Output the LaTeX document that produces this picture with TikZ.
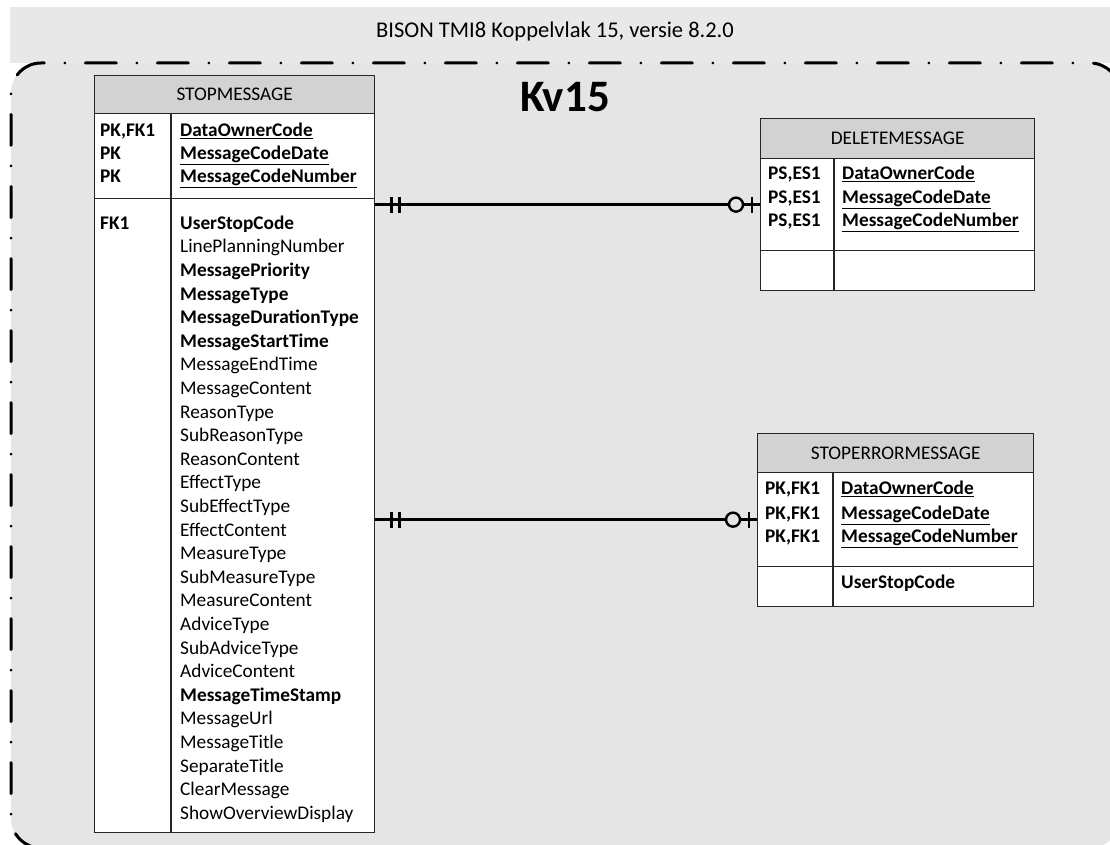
\documentclass[tikz,border=0pt]{standalone}
\usepackage{fontspec}
\setmainfont{Carlito}
\usetikzlibrary{calc}
\definecolor{bandgray}{HTML}{E8E8E8}
\definecolor{bggray}{HTML}{E5E5E5}
\definecolor{hdrgray}{HTML}{D2D2D2}
\definecolor{linecol}{HTML}{262626}
\newcommand{\tf}{\fontsize{19.3}{23}\selectfont}
\begin{document}
\begin{tikzpicture}[x=1pt,y=-1pt,
  hdr/.style={draw=linecol, fill=hdrgray, line width=1.3pt, inner sep=0pt, anchor=north west, font=\tf},
  body/.style={draw=linecol, fill=white, line width=1.3pt, inner sep=0pt, anchor=north west},
  txt/.style={inner sep=0pt, anchor=mid west, font=\tf},
  coldiv/.style={draw=linecol, line width=1.3pt},
  conn/.style={draw=black, line width=2.4pt},
  border/.style={draw=black, line width=3pt, line cap=round, rounded corners=30pt, dash pattern=on 31pt off 20.5pt on 0pt off 20.5pt}
]
\useasboundingbox (0,0) rectangle (1110,845);
\fill[white] (0,0) rectangle (1110,845);
\fill[bandgray] (10,7) rectangle (1110,63);
\path[fill=bggray, rounded corners=30pt] (11,63) rectangle (1120,848);
\draw[border, dash phase=47.5pt] (11,818) -- (11,63) -- (1120,63) -- (1120,848);
\draw[border, dash phase=55.5pt] (11,818) -- (11,848) -- (1120,848);
\node[font=\fontsize{22.5}{26}\selectfont, inner sep=0pt] (title) at (555,32) {BISON TMI8 Koppelvlak 15, versie 8.2.0};
\node[font=\fontsize{45}{50}\selectfont\bfseries, inner sep=0pt] (kv) at (565,97) {Kv15};

% STOPMESSAGE
\node[hdr, minimum width=280pt, minimum height=38pt] (stophdr) at (94,75) {STOPMESSAGE};
\node[body, minimum width=280pt, minimum height=85pt] (stoppk) at (94,113) {};
\node[body, minimum width=280pt, minimum height=634pt] (stopattr) at (94,198) {};
\draw[coldiv] (171,113) -- (171,832);
\node[txt, font=\tf\bfseries] (s1k) at (100,134) {PK,FK1};
\node[txt, font=\tf\bfseries] (s2k) at (100,157) {PK};
\node[txt, font=\tf\bfseries] (s3k) at (100,180) {PK};
\node[txt, font=\tf\bfseries] (s1) at (180,134) {\underline{DataOwnerCode}};
\node[txt, font=\tf\bfseries] (s2) at (180,157) {\underline{MessageCodeDate}};
\node[txt, font=\tf\bfseries] (s3) at (180,180) {\underline{MessageCodeNumber}};
\node[txt, font=\tf\bfseries] (s4k) at (100,227) {FK1};
\foreach \t/\b [count=\i from 0] in {UserStopCode/1, LinePlanningNumber/0, MessagePriority/1, MessageType/1, MessageDurationType/1, MessageStartTime/1, MessageEndTime/0, MessageContent/0, ReasonType/0, SubReasonType/0, ReasonContent/0, EffectType/0, SubEffectType/0, EffectContent/0, MeasureType/0, SubMeasureType/0, MeasureContent/0, AdviceType/0, SubAdviceType/0, AdviceContent/0, MessageTimeStamp/1, MessageUrl/0, MessageTitle/0, SeparateTitle/0, ClearMessage/0, ShowOverviewDisplay/0}{
  \node[txt] (sa\i) at (180,{227+23.6*\i}) {\ifnum\b=1 \bfseries\fi\t};
}

% DELETEMESSAGE
\node[hdr, minimum width=274pt, minimum height=40pt] (delhdr) at (760,118) {DELETEMESSAGE};
\node[body, minimum width=274pt, minimum height=92pt] (delpk) at (760,158) {};
\node[body, minimum width=274pt, minimum height=40pt] (delattr) at (760,250) {};
\draw[coldiv] (834,158) -- (834,290);
\node[txt, font=\tf\bfseries] (d1k) at (768,177) {PS,ES1};
\node[txt, font=\tf\bfseries] (d2k) at (768,201) {PS,ES1};
\node[txt, font=\tf\bfseries] (d3k) at (768,224) {PS,ES1};
\node[txt, font=\tf\bfseries] (d1) at (842,177) {\underline{DataOwnerCode}};
\node[txt, font=\tf\bfseries] (d2) at (842,201) {\underline{MessageCodeDate}};
\node[txt, font=\tf\bfseries] (d3) at (842,224) {\underline{MessageCodeNumber}};

% STOPERRORMESSAGE
\node[hdr, minimum width=276pt, minimum height=39pt] (errhdr) at (757,433) {STOPERRORMESSAGE};
\node[body, minimum width=276pt, minimum height=94pt] (errpk) at (757,472) {};
\node[body, minimum width=276pt, minimum height=40pt] (errattr) at (757,566) {};
\draw[coldiv] (833,472) -- (833,606);
\node[txt, font=\tf\bfseries] (e1k) at (765,492) {PK,FK1};
\node[txt, font=\tf\bfseries] (e2k) at (765,517) {PK,FK1};
\node[txt, font=\tf\bfseries] (e3k) at (765,540) {PK,FK1};
\node[txt, font=\tf\bfseries] (e1) at (841,492) {\underline{DataOwnerCode}};
\node[txt, font=\tf\bfseries] (e2) at (841,517) {\underline{MessageCodeDate}};
\node[txt, font=\tf\bfseries] (e3) at (841,540) {\underline{MessageCodeNumber}};
\node[txt, font=\tf\bfseries] (e4) at (841,586) {UserStopCode};

% connectors
\foreach \tgt/\nm in {delpk/a, errpk/b}{
  \coordinate (start\nm) at (stopattr.east |- \tgt.west);
  \draw[conn] (start\nm) -- (\tgt.west);
  \draw[conn] ($(start\nm)+(16,-8)$) -- ($(start\nm)+(16,8)$);
  \draw[conn] ($(start\nm)+(24,-8)$) -- ($(start\nm)+(24,8)$);
  \draw[conn, fill=bggray] ($(\tgt.west)+(-24,0)$) circle (7pt);
  \draw[conn] ($(\tgt.west)+(-8,-8)$) -- ($(\tgt.west)+(-8,8)$);
}
\end{tikzpicture}
\end{document}
